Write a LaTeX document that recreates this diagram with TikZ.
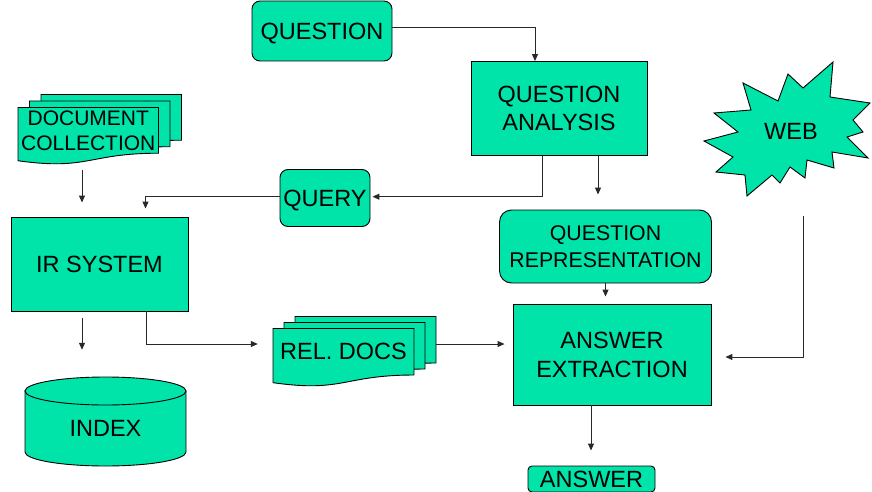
\documentclass[tikz,border=0pt]{standalone}
\usepackage{fontspec}
\setmainfont{Liberation Sans}
\usetikzlibrary{arrows.meta,calc}
\definecolor{boxgreen}{RGB}{0,228,170}
\definecolor{edgecol}{RGB}{40,40,40}
\newcommand{\docpage}[4]{%
  \filldraw[shp] (#1,#2) -- ({#1+#3},#2) -- ({#1+#3},{#2+0.802*#4})
    .. controls +({-0.5*#3},0) and +({0.5*#3},{0.1735*#4}) .. (#1,{#2+0.934*#4}) -- cycle;}
\begin{document}
\begin{tikzpicture}[x=1pt,y=-1pt,
  shp/.style={fill=boxgreen,draw=black,line width=0.9pt},
  box/.style={shp,rectangle,inner sep=0pt,align=center,font=\fontsize{23.5}{28}\selectfont},
  rbox/.style={box,rounded corners=8pt},
  txt/.style={inner sep=0pt,align=center,font=\fontsize{23.5}{28}\selectfont},
  conn/.style={draw=edgecol,line width=1pt},
  arr/.style={conn,-{Triangle[length=7pt,width=6pt]}}]
\useasboundingbox (0,0) rectangle (872,492);

% document collection pages
\docpage{41}{94.5}{140.5}{57}
\docpage{29.5}{101}{140.5}{57}
\docpage{18}{107.5}{140.5}{57}
% rel docs pages
\docpage{295}{316.5}{141}{58}
\docpage{284}{322.5}{141}{58}
\docpage{273}{328.5}{141}{58}
% index cylinder
\filldraw[shp] (25,391) -- (25,452) arc[start angle=180,end angle=360,x radius=80.5pt,y radius=14pt] -- (186,391) -- cycle;
\filldraw[shp] (105.5,391) ellipse[x radius=80.5pt,y radius=14pt];
% web starburst
\filldraw[shp] (788,74) -- (803,88) -- (833,62) -- (830,97) -- (870,103) -- (853,120) -- (863,132)
  -- (847,137) -- (868,158) -- (832,152) -- (834,168) -- (807,160) -- (805,178) -- (790,167)
  -- (780,183) -- (772,175) -- (747,196) -- (745,175) -- (716,172) -- (733,157) -- (704,141)
  -- (738,132) -- (714,113) -- (751,110) -- (743,83) -- (778,101) -- cycle;

% nodes
\node[rbox,text depth=0pt,minimum width=140pt,minimum height=60pt] (q) at (322,31) {QUESTION};
\node[box,minimum width=176pt,minimum height=94pt] (qa) at (559,108.5) {QUESTION\\ANALYSIS};
\node[rbox,text depth=0pt,minimum width=90pt,minimum height=57pt] (query) at (325,198) {QUERY};
\node[box,minimum width=177pt,minimum height=94pt] (ir) at (99.5,264) {IR SYSTEM};
\node[rbox,rounded corners=12pt,minimum width=212pt,minimum height=73pt,font=\fontsize{21.3}{26.5}\selectfont] (qr) at (605.5,246.5) {QUESTION\\REPRESENTATION};
\node[box,minimum width=198pt,minimum height=101pt,font=\fontsize{23.5}{29}\selectfont] (ae) at (612,354.5) {ANSWER\\EXTRACTION};
\node[rbox,rounded corners=4pt,minimum width=127pt,minimum height=26pt] (ans) at (591.5,479) {ANSWER};
\node[txt,font=\fontsize{21}{25}\selectfont,minimum width=140.5pt,minimum height=45.7pt] (doc) at (88.25,130.35) {DOCUMENT\\COLLECTION};
\node[txt,minimum width=141pt,minimum height=45pt] (rel) at (343.5,351) {REL. DOCS};
\node[txt,minimum width=161pt,minimum height=62pt] (index) at (105.5,428) {INDEX};
\node[txt,minimum width=166pt,minimum height=130pt] (web) at (791,131) {WEB};

% connectors
\draw[arr] ([yshift=3pt]q.east) -| ([xshift=-24pt]qa.north);
\draw[arr] ([xshift=-16.5pt]qa.south) |- ([xshift=2pt,yshift=1.3pt]query.east);
\draw[arr] ([xshift=39pt]qa.south) -- ([xshift=-7.5pt,yshift=15pt]qr.north);
\draw[arr] ([yshift=1.3pt]query.west) -| ([xshift=46pt,yshift=8pt]ir.north);
\draw[arr] ([xshift=-6.25pt,yshift=-17pt]doc.south) -- ([xshift=-17.5pt,yshift=14pt]ir.north);
\draw[arr] ([xshift=-17.5pt,yshift=-7pt]ir.south) -- ([xshift=-23.5pt,yshift=47pt]index.north);
\draw[arr] ([xshift=46.5pt]ir.south) |- ([xshift=-15pt,yshift=7pt]rel.west);
\draw[arr] ([xshift=22pt,yshift=7pt]rel.east) -- ([xshift=-8pt,yshift=10.5pt]ae.west);
\draw[arr] (qr.south) -- ([xshift=-6.5pt,yshift=7pt]ae.north);
\draw[arr] ([xshift=-21pt]ae.south) -- ([xshift=-0.5pt,yshift=15pt]ans.north);
\draw[arr] ([xshift=12pt,yshift=-20pt]web.south) |- ([xshift=14pt,yshift=-2.5pt]ae.east);
\end{tikzpicture}
\end{document}
